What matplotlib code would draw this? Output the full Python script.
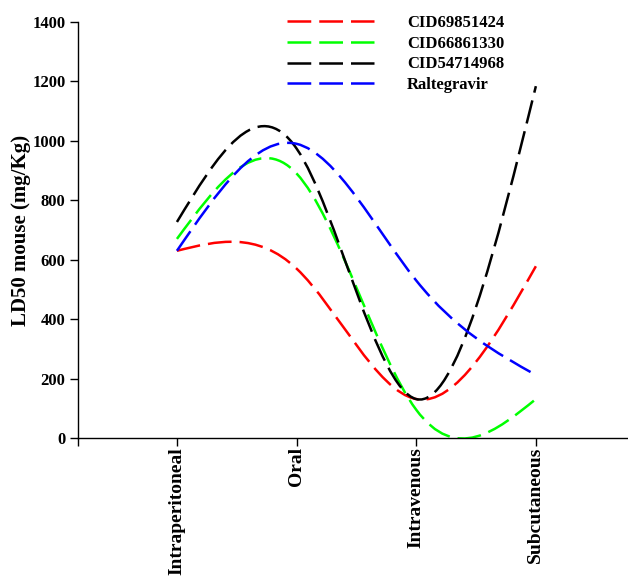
import numpy as np
import matplotlib
matplotlib.use("Agg")
import matplotlib.pyplot as plt
from matplotlib.path import Path
from matplotlib.patches import PathPatch
from matplotlib.lines import Line2D

routes = ["Intraperitoneal", "Oral", "Intravenous", "Subcutaneous"]
names = ["CID69851424", "CID66861330", "CID54714968", "Raltegravir"]
cid69851424 = [630, 570, 131, 578]
cid66861330 = [670, 890, 95, 131]
cid54714968 = [727, 974, 131, 1184]
raltegravir = [630, 990, 530, 212]
colors = ["#ff0000", "#00ff00", "#000000", "#0000ff"]

plt.rcParams["font.family"] = ["Liberation Serif", "DejaVu Serif"]
plt.rcParams["font.weight"] = "bold"

DASH = (0, (9.5, 3.2))
LW = 1.8


def spline_path(y):
    # natural cubic spline through equally spaced points, as bezier segments
    y = np.asarray(y, dtype=float)
    n = len(y)
    A = np.zeros((n, n))
    r = np.zeros(n)
    A[0, 0], A[0, 1], r[0] = 2, 1, 3 * (y[1] - y[0])
    A[-1, -2], A[-1, -1], r[-1] = 1, 2, 3 * (y[-1] - y[-2])
    for i in range(1, n - 1):
        A[i, i - 1], A[i, i], A[i, i + 1] = 1, 4, 1
        r[i] = 3 * (y[i + 1] - y[i - 1])
    d = np.linalg.solve(A, r)
    verts = [(0, y[0])]
    codes = [Path.MOVETO]
    for i in range(n - 1):
        verts += [(i + 1 / 3, y[i] + d[i] / 3),
                  (i + 2 / 3, y[i + 1] - d[i + 1] / 3),
                  (i + 1, y[i + 1])]
        codes += [Path.CURVE4] * 3
    return Path(verts, codes)


fig = plt.figure(figsize=(6.28, 5.77), dpi=100)
ax = fig.add_axes([0.1242, 0.2409, 0.8758, 0.7210])

series = [cid69851424, cid66861330, cid54714968, raltegravir]
handles = []
for vals, name, c in zip(series, names, colors):
    patch = PathPatch(spline_path(vals), facecolor="none", edgecolor=c,
                      lw=LW, linestyle=DASH, capstyle="butt")
    ax.add_patch(patch)
    handles.append(Line2D([], [], color=c, lw=LW, linestyle=DASH, label=name))

ax.set_xlim(-0.827, 3.77)
ax.set_ylim(0, 1400)
ax.set_xticks(range(len(routes)))
ax.set_xticklabels(routes, rotation=90, fontsize=14, fontweight="bold")
ax.set_xticks([-0.827], minor=True)
ax.set_yticks(np.arange(0, 1401, 200))
ax.tick_params(axis="y", labelsize=12, length=6, width=1, direction="out", pad=3)
ax.tick_params(axis="x", which="both", length=6, width=1, direction="out", pad=0.5)
for lab in ax.get_yticklabels():
    lab.set_fontweight("bold")

ax.spines["top"].set_visible(False)
ax.spines["right"].set_visible(False)
ax.spines["left"].set_linewidth(1)
ax.spines["bottom"].set_linewidth(1)

ax.set_ylabel("LD50 mouse (mg/Kg)", fontsize=15, fontweight="bold", labelpad=1)

ax.legend(handles=handles, loc="upper left", bbox_to_anchor=(0.457, 0.974),
          bbox_transform=fig.transFigure, frameon=False, fontsize=12,
          handlelength=5.2, handletextpad=2.0, labelspacing=0.28,
          borderaxespad=0, borderpad=0)

fig.savefig("out.png", dpi=100)
